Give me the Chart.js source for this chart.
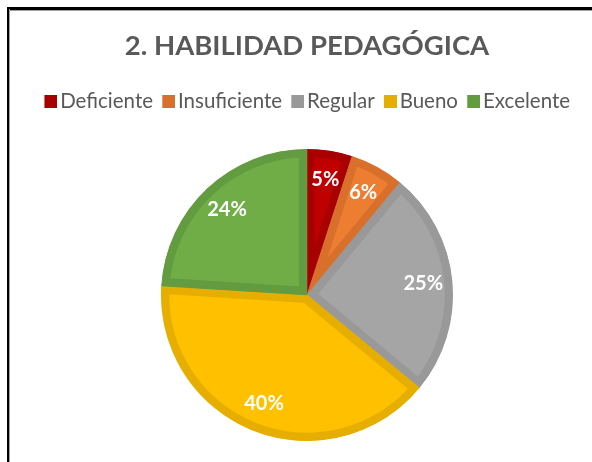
<!DOCTYPE html>
<html>
<head>
<meta charset="utf-8">
<script src="https://cdn.jsdelivr.net/npm/chart.js@4.4.1/dist/chart.umd.min.js"></script>
<style>
  html, body { margin: 0; padding: 0; background: #fff; overflow: hidden; }
  canvas { display: block; }
</style>
</head>
<body>
<canvas id="c" width="592" height="462"></canvas>
<script>
const titleText = "2. HABILIDAD PEDAGÓGICA";
const categories = ["Deficiente", "Insuficiente", "Regular", "Bueno", "Excelente"];
const values = [5, 6, 25, 40, 24];
const fillColors = ["#C00000", "#ED7D31", "#A5A5A5", "#FFC000", "#70AD47"];
const edgeColors = ["#A80000", "#D8702C", "#999999", "#E6AE00", "#629B40"];

const FONT = 'Lato, "Open Sans", "DejaVu Sans", sans-serif';

function makeMarker(color) {
  const cv = document.createElement('canvas');
  cv.width = 21; cv.height = 13;
  const g = cv.getContext('2d');
  g.fillStyle = color;
  g.fillRect(8, 0, 13, 13);
  return cv;
}
const markers = edgeColors.map(makeMarker);

const framePlugin = {
  id: 'frame',
  beforeDraw(chart) {
    const ctx = chart.ctx;
    ctx.save();
    ctx.fillStyle = '#ffffff';
    ctx.fillRect(0, 0, chart.width, chart.height);
    ctx.fillStyle = '#000000';
    ctx.fillRect(7, 7, chart.width - 7, 3);
    ctx.fillRect(7, 7, 2, chart.height - 7);
    ctx.fillStyle = '#a0a0a0';
    ctx.fillRect(9, 10, chart.width - 9, 1);
    ctx.fillRect(9, 9, 1, chart.height - 9);
    ctx.restore();
  }
};

const legendSpacer = {
  id: 'legendSpacer',
  beforeInit(chart) {
    const orig = chart.legend.fit;
    chart.legend.fit = function () {
      orig.call(this);
      this.height = 67;
    };
  }
};

const labelPlugin = {
  id: 'pctLabels',
  afterDatasetsDraw(chart) {
    const ctx = chart.ctx;
    const meta = chart.getDatasetMeta(0);
    const total = values.reduce((a, b) => a + b, 0);
    ctx.save();
    ctx.fillStyle = '#ffffff';
    ctx.font = 'bold 20px ' + FONT;
    ctx.textAlign = 'center';
    ctx.textBaseline = 'middle';
    meta.data.forEach((arc, i) => {
      const p = arc.getProps(['x', 'y', 'startAngle', 'endAngle', 'outerRadius'], true);
      const mid = (p.startAngle + p.endAngle) / 2;
      const r = p.outerRadius * 0.8;
      const x = p.x + Math.cos(mid) * r;
      const y = p.y + Math.sin(mid) * r;
      ctx.fillText(Math.round(values[i] / total * 100) + '%', x, y);
    });
    ctx.restore();
  }
};

new Chart(document.getElementById('c'), {
  type: 'pie',
  data: {
    labels: categories,
    datasets: [{
      data: values,
      backgroundColor: fillColors,
      borderColor: edgeColors,
      borderWidth: 8,
      borderAlign: 'inner',
      borderJoinStyle: 'miter'
    }]
  },
  options: {
    responsive: false,
    animation: false,
    layout: { padding: { top: 0, bottom: 21, left: 22, right: 0 } },
    plugins: {
      title: {
        display: true,
        text: titleText,
        color: '#595959',
        font: { family: FONT, size: 27.5, weight: 'bold' },
        padding: { top: 30, bottom: 19 }
      },
      legend: {
        position: 'top',
        labels: {
          color: '#595959',
          font: { family: FONT, size: 20.5 },
          usePointStyle: true,
          pointStyleWidth: 6,
          boxHeight: 13,
          padding: 8.75,
          generateLabels(chart) {
            return categories.map((c, i) => ({
              text: c, fillStyle: edgeColors[i], strokeStyle: edgeColors[i],
              pointStyle: markers[i],
              lineWidth: 0, fontColor: '#595959', index: i, hidden: false
            }));
          }
        }
      },
      tooltip: { enabled: false }
    }
  },
  plugins: [framePlugin, legendSpacer, labelPlugin]
});
</script>
</body>
</html>
